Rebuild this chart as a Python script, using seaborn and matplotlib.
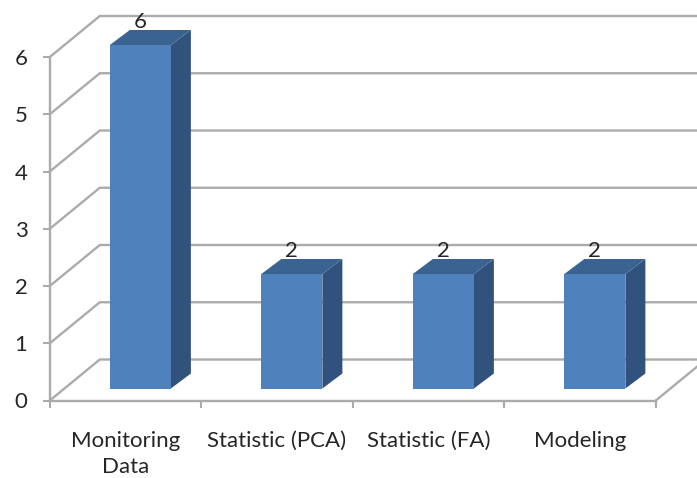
import matplotlib
matplotlib.use("Agg")
import matplotlib.pyplot as plt
import pandas as pd
import seaborn as sns
from matplotlib.patches import Polygon

categories = ["Monitoring\nData", "Statistic (PCA)", "Statistic (FA)", "Modeling"]
counts = [6, 2, 2, 2]
y_ticks = [0, 1, 2, 3, 4, 5, 6]

FRONT = "#4F81BD"
SIDE = "#30527C"
TOP = "#3B6391"
GRID = "#ABABAB"
INK = "#262626"
FONT_SIZE = 16

W, H = 697, 478
sns.set_theme(style="white")
plt.rcParams["font.family"] = ["Lato", "DejaVu Sans"]

fig = plt.figure(figsize=(W / 100, H / 100), dpi=100)


def frame_rect(dx=0.0, dy=0.0):
    left, right, bottom, top = 49.8, 655.8, 400.5, 57.0
    return [(left + dx) / W, 1 - (bottom - dy) / H, (right - left) / W, (bottom - top) / H]


# Front plane: value axis, category ticks and the receding chart walls
ax = fig.add_axes(frame_rect())
ax.set_xlim(-0.5, 3.5)
ax.set_ylim(0, 6)
ax.patch.set_alpha(0)
for side in ("top", "right"):
    ax.spines[side].set_visible(False)
for side in ("left", "bottom"):
    ax.spines[side].set_color(GRID)
    ax.spines[side].set_linewidth(1.7)

ax.set_yticks(y_ticks)
ax.set_xticks([-0.5, 0.5, 1.5, 2.5, 3.5], labels=[])
ax.set_xticks(range(len(categories)), labels=categories, minor=True, linespacing=1.35)
ax.tick_params(axis="both", which="major", color=GRID, width=1.5, length=5)
ax.tick_params(axis="y", pad=11, labelsize=FONT_SIZE, labelcolor=INK, left=True)
ax.tick_params(axis="x", which="major", bottom=True)
ax.tick_params(axis="x", which="minor", length=0, pad=22, labelsize=FONT_SIZE, labelcolor=INK)

wall_dx = 50 / 151.5
wall_dy = 41 / 57.25
for v in y_ticks:
    ax.plot([-0.5, -0.5 + wall_dx, 3.5 + 2 * wall_dx], [v, v + wall_dy, v + wall_dy],
            color=GRID, lw=1.7, clip_on=False, solid_joinstyle="miter")
ax.plot([3.5, 3.5 + wall_dx], [0, wall_dy], color=GRID, lw=1.7, clip_on=False)

# Bars sit part-way back on the floor, so they get their own shifted axes
bar_ax = fig.add_axes(frame_rect(dx=14.8, dy=12))
bar_ax.patch.set_alpha(0)
frame = pd.DataFrame({"category": categories, "count": counts})
sns.barplot(data=frame, x="category", y="count", color=FRONT, saturation=1,
            width=0.403, linewidth=0, ax=bar_ax, zorder=3)
bar_ax.set_xlim(-0.5, 3.5)
bar_ax.set_ylim(0, 6)
bar_ax.axis("off")

depth_x = 20 / 151.5
depth_y = 15 / 57.25
half = 0.403 / 2
for i, value in enumerate(counts):
    l, r = i - half, i + half
    bar_ax.add_patch(Polygon([(r, 0), (r + depth_x, depth_y), (r + depth_x, value + depth_y), (r, value)],
                             closed=True, fc=SIDE, ec="none", zorder=2, clip_on=False))
    bar_ax.add_patch(Polygon([(l, value), (l + depth_x, value + depth_y),
                              (r + depth_x, value + depth_y), (r, value)],
                             closed=True, fc=TOP, ec="none", zorder=2, clip_on=False))
    bar_ax.text(i, value + 0.22, str(value), ha="center", va="bottom", fontsize=FONT_SIZE,
                color=INK, zorder=4, clip_on=False)

fig.savefig("out.png", dpi=100)
